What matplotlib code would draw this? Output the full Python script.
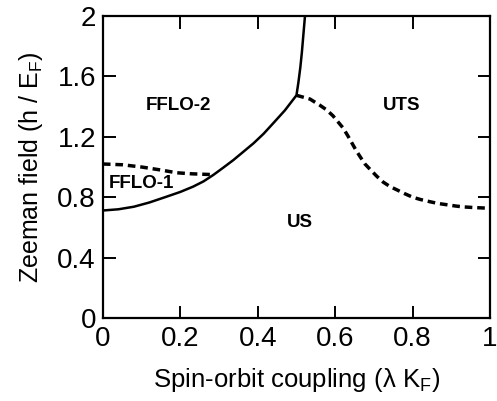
import matplotlib
matplotlib.use("Agg")
from matplotlib import pyplot as plt

# phase boundaries
# FFLO-2 / US boundary (solid), then the near-vertical FFLO-2 / UTS part
solid_x = [0.0, 0.04, 0.08, 0.12, 0.165, 0.2, 0.233, 0.26, 0.285, 0.31, 0.337,
           0.36, 0.389, 0.415, 0.44, 0.47, 0.50,
           0.505, 0.510, 0.514, 0.518, 0.522]
solid_y = [0.712, 0.72, 0.737, 0.765, 0.804, 0.835, 0.870, 0.905, 0.947, 0.994,
           1.046, 1.095, 1.157, 1.22, 1.29, 1.375, 1.475,
           1.56, 1.66, 1.76, 1.88, 2.0]

# FFLO-1 / FFLO-2 boundary (dashed)
fflo1_x = [0.0, 0.05, 0.10, 0.15, 0.19, 0.23, 0.28]
fflo1_y = [1.02, 1.015, 1.0, 0.98, 0.962, 0.955, 0.95]

# US / UTS boundary (dashed)
uts_x = [0.50, 0.535, 0.56, 0.577, 0.594, 0.607, 0.62, 0.632, 0.643, 0.654,
         0.664, 0.677, 0.69, 0.707, 0.724, 0.742, 0.76, 0.78, 0.80, 0.82,
         0.845, 0.867, 0.889, 0.91, 0.93, 0.955, 0.98, 1.0]
uts_y = [1.475, 1.45, 1.41, 1.38, 1.34, 1.30, 1.26, 1.21, 1.16, 1.11,
         1.07, 1.02, 0.985, 0.94, 0.90, 0.87, 0.848, 0.823, 0.80, 0.785,
         0.77, 0.758, 0.75, 0.742, 0.736, 0.732, 0.729, 0.727]

xticks = [0, 0.2, 0.4, 0.6, 0.8, 1]
xticklabels = ["0", "0.2", "0.4", "0.6", "0.8", "1"]
yticks = [0, 0.4, 0.8, 1.2, 1.6, 2]
yticklabels = ["0", "0.4", "0.8", "1.2", "1.6", "2"]

phase_names = ["FFLO-2", "FFLO-1", "UTS", "US"]
phase_x = [0.195, 0.10, 0.772, 0.51]
phase_y = [1.41, 0.89, 1.41, 0.63]

plt.rcParams["font.family"] = ["Liberation Sans", "DejaVu Sans"]
plt.rcParams["mathtext.default"] = "regular"
plt.rcParams["lines.scale_dashes"] = False

fig = plt.figure(figsize=(4.97, 4.01), dpi=100)
ax = fig.add_axes([0.207, 0.207, 0.779, 0.753])

ax.plot(solid_x, solid_y, color="black", lw=1.8, solid_joinstyle="round")
ax.plot(fflo1_x, fflo1_y, color="black", lw=2.5, dashes=(5.5, 3.5))
ax.plot(uts_x, uts_y, color="black", lw=2.5, dashes=(5.5, 3.5))

for name, px, py in zip(phase_names, phase_x, phase_y):
    ax.text(px, py, name, fontsize=13.5, fontweight="bold",
            ha="center", va="center")

ax.set_xlim(0, 1)
ax.set_ylim(0, 2)
ax.set_xticks(xticks)
ax.set_xticklabels(xticklabels)
ax.set_yticks(yticks)
ax.set_yticklabels(yticklabels)
ax.tick_params(direction="in", length=9, width=1.4, labelsize=20,
               top=True, right=True)
ax.tick_params(axis="x", pad=6)
ax.tick_params(axis="y", pad=5)
for s in ax.spines.values():
    s.set_linewidth(1.6)

ax.set_xlabel("Spin-orbit coupling (λ K$_{F}$)", fontsize=18.5, labelpad=10)
ax.set_ylabel("Zeeman field (h / E$_{F}$)", fontsize=18, labelpad=9)

plt.savefig("out.png", dpi=100)
